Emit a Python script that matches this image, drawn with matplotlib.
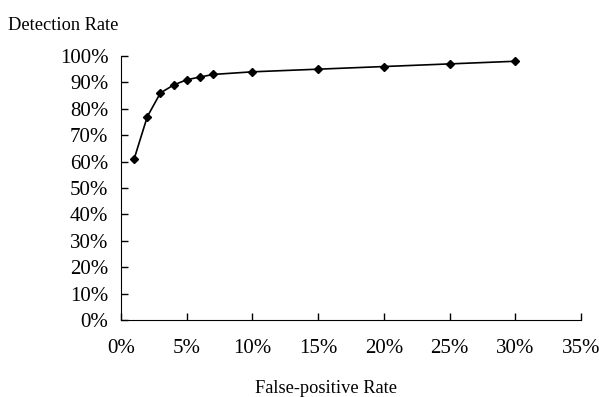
import matplotlib
matplotlib.use('Agg')
import matplotlib.pyplot as plt
import numpy as np

# false-positive rate (%) vs detection rate (%)
fp_rate = [1, 2, 3, 4, 5, 6, 7, 10, 15, 20, 25, 30]
det_rate = [61, 77, 86, 89, 91, 92, 93, 94, 95, 96, 97, 98]
x_ticks = [0, 5, 10, 15, 20, 25, 30, 35]
y_ticks = list(range(0, 101, 10))

plt.rcParams['font.family'] = ['Liberation Serif', 'DejaVu Serif']

fig = plt.figure(figsize=(5.99, 3.97), dpi=100)
ax = fig.add_axes([0.202, 0.194, 0.768, 0.665])

ax.plot(fp_rate, det_rate, color='black', lw=1.2, marker='D', ms=4)

ax.set_xlim(0, 35)
ax.set_ylim(0, 100)
ax.set_xticks(x_ticks)
ax.set_xticklabels([f'{v}%' for v in x_ticks])
ax.set_yticks(y_ticks)
ax.set_yticklabels([f'{v}%' for v in y_ticks])
ax.tick_params(direction='in', length=5, width=1, labelsize=15, pad=9)
ax.tick_params(axis='x', pad=14)
ax.spines['top'].set_visible(False)
ax.spines['right'].set_visible(False)

fig.text(0.013, 0.935, 'Detection Rate', fontsize=13.2, ha='left', va='center')
fig.text(0.545, 0.022, 'False-positive Rate', fontsize=13.2, ha='center', va='center')

fig.savefig('out.png', dpi=100)
